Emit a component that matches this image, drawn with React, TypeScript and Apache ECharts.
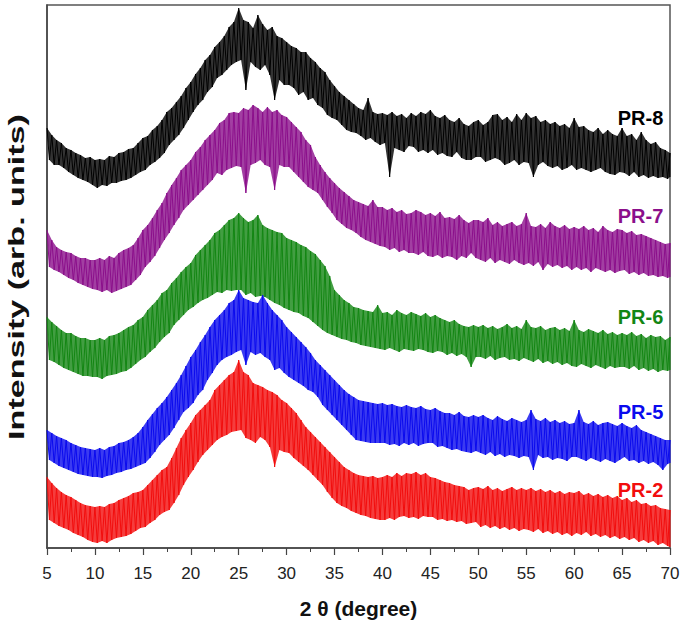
import React, { useEffect, useRef } from "react";
import * as echarts from "echarts";

// 2θ sampling: every 0.5° from 5 to 70 (131 samples); upper/lower edge of the noisy trace
const X_START = 5;
const X_STEP = 0.5;
const X_END = 70;
const xTicks = [5, 10, 15, 20, 25, 30, 35, 40, 45, 50, 55, 60, 65, 70];

// PR-8 (black)
const pr8Hi = [
  420, 413, 408, 405, 400, 398, 395, 393, 390, 391,
  388, 389, 388, 392, 391, 395, 396, 399, 400, 405,
  410, 412, 418, 422, 428, 436, 440, 446, 452, 460,
  466, 474, 480, 488, 493, 501, 506, 512, 521, 526,
  540, 528, 526, 520, 533, 524, 518, 521, 512, 510,
  506, 502, 500, 496, 496, 490, 486, 480, 476, 468,
  462, 456, 452, 448, 444, 440, 438, 450, 436, 434,
  435, 433, 436, 432, 434, 430, 435, 432, 436, 434,
  438, 432, 430, 433, 428, 426, 430, 424, 422, 426,
  428, 423, 426, 433, 434, 428, 431, 426, 434, 428,
  435, 430, 432, 426, 428, 424, 426, 422, 424, 420,
  430, 421, 422, 418, 416, 420, 414, 418, 414, 412,
  420, 412, 414, 408, 416, 408, 404, 406, 400, 398,
  395,
];
const pr8Lo = [
  388, 383, 383, 380, 376, 373, 370, 368, 366, 363,
  360, 363, 362, 365, 365, 367, 368, 370, 373, 376,
  378, 383, 386, 390, 395, 403, 408, 413, 420, 428,
  436, 443, 448, 456, 461, 470, 473, 478, 483, 486,
  488, 458, 486, 481, 478, 483, 473, 448, 468, 463,
  463, 460, 453, 456, 448, 450, 443, 440, 433, 430,
  428, 423, 418, 416, 415, 412, 408, 410, 406, 403,
  405, 371, 400, 398, 396, 402, 401, 396, 398, 395,
  398, 393, 395, 392, 391, 396, 390, 388, 388, 391,
  391, 386, 388, 390, 388, 383, 385, 388, 383, 386,
  385, 371, 383, 386, 382, 380, 382, 378, 380, 383,
  378, 380, 378, 376, 378, 380, 376, 374, 373, 376,
  375, 372, 376, 371, 373, 370, 372, 370, 371, 369,
  371,
];

// PR-7 (purple)
const pr7Hi = [
  318, 308, 301, 298, 296, 295, 292, 290, 290, 288,
  288, 290, 288, 292, 290, 295, 298, 300, 303, 310,
  318, 323, 330, 338, 345, 355, 363, 370, 378, 383,
  388, 396, 401, 408, 413, 418, 425, 428, 435, 436,
  435, 440, 438, 443, 440, 436, 441, 436, 438, 433,
  431, 426, 421, 416, 408, 403, 391, 383, 376, 370,
  365, 360, 356, 352, 348, 346, 344, 342, 348, 341,
  341, 338, 340, 336, 338, 334, 335, 338, 336, 333,
  335, 332, 336, 330, 331, 329, 333, 328, 325, 328,
  328, 326, 330, 323, 326, 322, 324, 326, 322, 324,
  335, 322, 321, 324, 320, 326, 322, 320, 323, 319,
  321, 319, 322, 318, 320, 316, 322, 318, 316, 319,
  318, 315, 317, 313, 314, 312, 310, 308, 306, 304,
  305,
];
const pr7Lo = [
  281, 278, 276, 273, 270, 268, 265, 263, 261, 259,
  258, 256, 258, 255, 257, 259, 261, 263, 268, 273,
  281, 286, 292, 300, 308, 315, 323, 330, 338, 343,
  348, 353, 358, 363, 368, 375, 373, 378, 380, 382,
  381, 355, 383, 385, 388, 383, 381, 358, 383, 381,
  381, 376, 371, 366, 361, 358, 355, 348, 341, 335,
  328, 324, 320, 318, 315, 311, 308, 306, 304, 302,
  301, 298, 300, 296, 298, 295, 295, 293, 296, 292,
  291, 293, 290, 292, 291, 288, 292, 290, 295, 290,
  288, 286, 290, 285, 288, 286, 284, 288, 285, 283,
  285, 282, 286, 278, 284, 281, 283, 280, 282, 278,
  281, 278, 280, 276, 280, 278, 276, 278, 275, 277,
  278, 274, 276, 273, 275, 272, 273, 271, 272, 270,
  271,
];

// PR-6 (green)
const pr6Hi = [
  231, 226, 222, 218, 215, 215, 212, 210, 210, 208,
  208, 210, 208, 212, 213, 215, 218, 221, 223, 228,
  231, 238, 243, 248, 255, 258, 265, 270, 276, 281,
  285, 293, 298, 303, 308, 315, 318, 323, 328, 330,
  335, 330, 326, 328, 333, 323, 320, 318, 316, 315,
  310, 308, 306, 303, 301, 297, 294, 288, 282, 272,
  258, 253, 248, 245, 241, 240, 238, 237, 236, 243,
  235, 236, 233, 238, 235, 233, 236, 234, 232, 235,
  231, 233, 230, 228, 226, 228, 224, 222, 221, 223,
  221, 223, 220, 222, 219, 221, 224, 220, 222, 219,
  228, 221, 220, 222, 218, 220, 221, 218, 220, 217,
  228, 218, 216, 219, 217, 215, 218, 214, 216, 213,
  215, 213, 216, 212, 214, 210, 213, 211, 212, 208,
  211,
];
const pr6Lo = [
  188, 186, 183, 180, 178, 176, 174, 172, 172, 171,
  171, 169, 172, 173, 174, 176, 177, 180, 184, 188,
  191, 196, 200, 206, 211, 215, 223, 228, 233, 238,
  241, 245, 248, 250, 253, 256, 255, 258, 257, 258,
  258, 253, 255, 251, 252, 251, 248, 245, 243, 240,
  238, 236, 235, 232, 230, 226, 222, 218, 215, 213,
  211, 209, 208, 206, 205, 203, 202, 201, 200, 199,
  198, 200, 198, 196, 199, 198, 197, 199, 198, 196,
  195, 197, 196, 193, 195, 192, 194, 191, 181, 191,
  191, 189, 192, 188, 190, 191, 188, 189, 187, 190,
  188, 186, 189, 185, 187, 184, 186, 183, 185, 182,
  181, 184, 182, 180, 183, 181, 179, 182, 180, 181,
  181, 179, 182, 178, 180, 177, 179, 176, 178, 177,
  178,
];

// PR-5 (blue)
const pr5Hi = [
  118, 115, 112, 110, 108, 105, 103, 101, 100, 99,
  98, 100, 98, 101, 102, 105, 106, 108, 111, 115,
  121, 128, 134, 140, 145, 151, 158, 165, 173, 182,
  191, 198, 206, 213, 221, 228, 233, 238, 245, 248,
  258, 250, 248, 246, 245, 253, 245, 238, 233, 228,
  221, 216, 211, 206, 201, 195, 188, 183, 178, 173,
  168, 163, 158, 154, 151, 148, 147, 146, 145, 144,
  145, 143, 144, 142, 141, 143, 141, 140, 142, 139,
  138, 140, 137, 135, 135, 133, 136, 132, 131, 133,
  131, 133, 130, 128, 132, 129, 127, 130, 128, 126,
  128, 138, 129, 127, 130, 126, 128, 125, 127, 124,
  125, 138, 126, 124, 127, 123, 125, 126, 124, 122,
  125, 122, 120, 123, 118, 116, 114, 112, 110, 108,
  108,
];
const pr5Lo = [
  88, 85, 82, 80, 78, 76, 74, 73, 72, 71,
  71, 70, 72, 73, 75, 76, 78, 79, 81, 83,
  85, 90, 96, 103, 108, 113, 120, 128, 136, 140,
  145, 153, 158, 168, 175, 183, 188, 191, 193, 196,
  198, 183, 196, 193, 195, 191, 188, 178, 180, 175,
  171, 168, 165, 162, 158, 156, 151, 143, 138, 133,
  128, 123, 118, 113, 108, 107, 106, 105, 105, 105,
  105, 103, 104, 102, 105, 103, 105, 102, 104, 105,
  105, 101, 102, 100, 98, 99, 97, 96, 95, 97,
  95, 93, 96, 92, 94, 91, 93, 92, 90, 92,
  91, 78, 93, 90, 91, 88, 90, 89, 87, 91,
  91, 89, 87, 90, 88, 86, 89, 87, 85, 88,
  91, 87, 88, 85, 87, 84, 86, 83, 78, 84,
  85,
];

// PR-2 (red)
const pr2Hi = [
  71, 65, 60, 56, 53, 51, 48, 45, 43, 42,
  41, 42, 41, 44, 45, 48, 50, 52, 55, 56,
  58, 63, 68, 73, 78, 81, 90, 100, 110, 118,
  125, 133, 138, 143, 148, 158, 163, 168, 173, 176,
  188, 176, 173, 165, 163, 161, 158, 156, 153, 148,
  145, 140, 135, 128, 121, 116, 111, 106, 101, 96,
  91, 86, 81, 78, 75, 73, 72, 71, 72, 70,
  71, 73, 71, 75, 72, 75, 74, 76, 73, 75,
  71, 70, 68, 66, 65, 63, 62, 61, 58, 60,
  61, 59, 62, 58, 60, 57, 59, 61, 58, 60,
  58, 60, 57, 59, 56, 58, 55, 57, 54, 56,
  55, 57, 53, 55, 52, 54, 51, 53, 50, 52,
  48, 50, 46, 48, 44, 45, 42, 43, 40, 39,
  38,
];
const pr2Lo = [
  28, 25, 22, 20, 18, 15, 13, 11, 8, 6,
  5, 7, 5, 8, 10, 11, 12, 14, 17, 20,
  21, 25, 28, 33, 36, 38, 45, 53, 63, 71,
  78, 86, 93, 98, 103, 108, 111, 113, 116, 117,
  118, 110, 108, 105, 111, 108, 101, 81, 98, 96,
  95, 90, 86, 82, 78, 73, 68, 63, 56, 50,
  45, 42, 40, 37, 35, 33, 32, 30, 29, 28,
  28, 30, 28, 31, 32, 30, 31, 29, 32, 31,
  31, 28, 29, 27, 28, 26, 27, 24, 25, 26,
  21, 23, 20, 22, 19, 21, 18, 20, 17, 19,
  18, 16, 19, 15, 17, 14, 16, 13, 15, 12,
  15, 13, 16, 12, 14, 11, 13, 10, 12, 9,
  11, 8, 10, 6, 8, 5, 7, 3, 5, 2,
  1,
];

const seriesNames = ["PR-8", "PR-7", "PR-6", "PR-5", "PR-2"];
const seriesColors = ["#000000", "#8b0f8b", "#138613", "#0a0aee", "#f20d0d"];
const seriesHi = [pr8Hi, pr7Hi, pr6Hi, pr5Hi, pr2Hi];
const seriesLo = [pr8Lo, pr7Lo, pr6Lo, pr5Lo, pr2Lo];
// sample-name positions (2θ, intensity) — right edge of each label
const labelX = [69.3, 69.3, 69.3, 69.3, 69.3];
const labelY = [430, 332, 231, 136, 58];

const FONT = "'Liberation Sans', Arial, Helvetica, sans-serif";

function sampleX(i: number) {
  return X_START + i * X_STEP;
}
function lowX(i: number) {
  return Math.min(X_END, sampleX(i) + X_STEP / 2);
}

function buildTrace(hi: number[], lo: number[]): number[][] {
  const pts: number[][] = [];
  for (let i = 0; i < hi.length; i++) {
    pts.push([sampleX(i), hi[i]]);
    pts.push([lowX(i), lo[i]]);
  }
  return pts;
}

export default function App() {
  const ref = useRef<HTMLDivElement>(null);
  useEffect(() => {
    if (!ref.current) return;
    const chart = echarts.init(ref.current, undefined, { renderer: "svg" });
    const series: any[] = [];
    seriesNames.forEach((name, k) => {
      const hi = seriesHi[k];
      const lo = seriesLo[k];
      const color = seriesColors[k];
      // filled band between upper and lower edge of the noisy trace
      series.push({
        name: name + " band",
        type: "custom",
        silent: true,
        z: 2 + 2 * k,
        data: [[X_START, lo[0]]],
        renderItem: (_params: any, api: any) => {
          const pts: number[][] = [];
          for (let i = 0; i < hi.length; i++) pts.push(api.coord([sampleX(i), hi[i]]));
          for (let i = lo.length - 1; i >= 0; i--) pts.push(api.coord([lowX(i), lo[i]]));
          return {
            type: "polygon",
            shape: { points: pts },
            style: { fill: color, opacity: 0.8 },
          };
        },
      });
      // the noisy trace itself
      series.push({
        name,
        type: "line",
        data: buildTrace(hi, lo),
        showSymbol: false,
        symbol: "none",
        lineStyle: { color, width: 1 },
        z: 3 + 2 * k,
        markPoint: {
          symbol: "rect",
          symbolSize: 0,
          data: [
            {
              coord: [labelX[k], labelY[k]],
              label: {
                show: true,
                formatter: name,
                position: "left",
                distance: 0,
                color,
                fontFamily: FONT,
                fontWeight: "bold",
                fontSize: 20,
              },
            },
          ],
        },
      });
    });
    chart.setOption({
      animation: false,
      backgroundColor: "#ffffff",
      grid: {
        left: 47,
        right: 15,
        top: 5,
        bottom: 87,
        show: true,
        borderColor: "#555555",
        borderWidth: 1.5,
        containLabel: false,
      },
      graphic: [
        {
          type: "text",
          x: 16,
          y: 277,
          rotation: Math.PI / 2,
          scaleX: 1.55,
          scaleY: 1,
          style: {
            text: "Intensity (arb. units)",
            fontFamily: FONT,
            fontWeight: "bold",
            fontSize: 22,
            fill: "#111111",
            align: "center",
            verticalAlign: "middle",
          },
        },
      ],
      xAxis: {
        type: "value",
        min: 5,
        max: 70,
        interval: 5,
        name: "2 θ (degree)",
        nameLocation: "middle",
        nameGap: 50,
        nameTextStyle: {
          fontFamily: FONT,
          fontWeight: "bold",
          fontSize: 21,
          color: "#111111",
        },
        axisLine: { show: true, lineStyle: { color: "#444444", width: 1.5 } },
        axisTick: { show: true, inside: false, length: 7, lineStyle: { color: "#444444", width: 1.2 } },
        minorTick: { show: true, splitNumber: 2, length: 4, lineStyle: { color: "#444444", width: 1 } },
        axisLabel: {
          fontFamily: FONT,
          fontSize: 17,
          color: "#222222",
          margin: 17,
          formatter: (v: number) => (xTicks.includes(v) ? String(v) : ""),
        },
        splitLine: { show: false },
      },
      yAxis: {
        type: "value",
        min: 0,
        max: 543,
        axisLine: { show: true, lineStyle: { color: "#444444", width: 1.5 } },
        axisTick: { show: false },
        axisLabel: { show: false },
        splitLine: { show: false },
      },
      series,
    });
    return () => chart.dispose();
  }, []);
  return <div ref={ref} style={{ width: 685, height: 635, position: "absolute", left: 0, top: 0 }} />;
}
